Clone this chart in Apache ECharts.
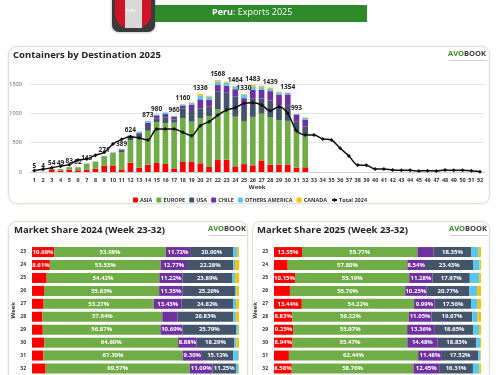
<!DOCTYPE html>
<html>
<head>
<meta charset="utf-8">
<script src="https://cdn.jsdelivr.net/npm/echarts@6/dist/echarts.min.js"></script>
<style>
  html, body { margin: 0; padding: 0; background: #fff; }
  #chart { width: 500px; height: 375px; }
</style>
</head>
<body>
<div id="chart"></div>
<script>
// Data
var weeks = [];
for (var w = 1; w <= 52; w++) weeks.push(String(w));

var asia    = [3, 2, 44, 25, 40, 30, 40, 55, 108, 112, 45, 159, 74, 125, 153, 136, 62, 170, 170, 148, 85, 204, 209, 97, 135, 114, 198, 127, 127, 121, 72, 80];
var europe  = [2, 2, 10, 24, 40, 50, 100, 115, 155, 205, 295, 386, 500, 579, 693, 693, 778, 744, 688, 766, 869, 864, 859, 846, 734, 826, 797, 809, 754, 751, 620, 546];
var usa     = [0, 0, 0, 0, 2, 1, 2, 6, 5, 8, 20, 35, 80, 80, 63, 103, 57, 171, 198, 171, 159, 301, 283, 343, 239, 308, 258, 283, 256, 255, 174, 152];
var chile   = [0, 0, 0, 0, 1, 1, 1, 0, 3, 5, 25, 40, 16, 56, 57, 56, 46, 40, 94, 153, 114, 113, 119, 125, 150, 152, 147, 159, 183, 196, 114, 116];
var others  = [0, 0, 0, 0, 0, 0, 0, 0, 0, 0, 4, 4, 20, 30, 12, 27, 14, 25, 25, 68, 55, 63, 54, 44, 60, 55, 47, 37, 37, 24, 11, 28];
var canada  = [0, 0, 0, 0, 0, 0, 0, 0, 0, 0, 0, 0, 0, 3, 2, 0, 3, 10, 10, 30, 18, 23, 16, 9, 12, 28, 23, 24, 13, 7, 2, 8];
var total2024 = [25, 45, 74, 100, 125, 205, 220, 285, 335, 477, 557, 602, 580, 545, 733, 733, 733, 676, 620, 790, 858, 971, 1056, 1096, 1170, 1182, 1142, 1045, 1113, 1000, 705, 631,
                 631, 563, 546, 404, 273, 119, 114, 51, 51, 34, 28, 28, 17, 22, 17, 34, 28, 28, 22, 6];
// weeks whose total is printed above the bar
var labelWeeks = [1, 2, 3, 4, 5, 6, 7, 9, 11, 12, 14, 15, 17, 18, 20, 22, 24, 25, 26, 28, 30, 31];

var shareWeeks = ['23', '24', '25', '26', '27', '28', '29', '30', '31', '32'];
// 2024 share: ASIA, EUROPE, CHILE, USA, OTHERS AMERICA, CANADA
var s24Asia   = [10.68, 8.61, 7.10, 5.80, 5.60, 5.00, 5.20, 6.00, 5.50, 6.60];
var s24Europe = [53.98, 53.53, 54.42, 55.63, 53.27, 57.94, 56.87, 64.60, 67.30, 69.57];
var s24Chile  = [11.72, 12.77, 11.22, 11.35, 13.43, 7.40, 10.69, 8.88, 9.30, 11.09];
var s24Usa    = [20.90, 22.28, 23.89, 25.26, 24.82, 26.83, 25.79, 18.29, 15.12, 11.25];
var s24Others = [1.90, 0.90, 1.50, 0.80, 1.50, 1.30, 0.90, 1.00, 2.50, 1.20];
var s24Canada = [0.82, 1.91, 1.87, 1.16, 1.38, 1.53, 0.55, 1.23, 0.28, 0.29];
// 2025 share
var s25Asia   = [13.55, 6.60, 10.15, 7.70, 13.44, 8.83, 9.25, 8.94, 7.20, 8.58];
var s25Europe = [55.77, 57.80, 55.19, 55.70, 54.22, 56.22, 55.07, 55.47, 62.44, 58.76];
var s25Chile  = [7.70, 8.54, 11.28, 10.25, 9.99, 11.05, 13.36, 14.48, 11.48, 12.45];
var s25Usa    = [18.35, 23.43, 17.97, 20.77, 17.56, 19.67, 18.65, 18.83, 17.52, 16.31];
var s25Others = [3.50, 3.00, 4.50, 3.70, 3.20, 2.60, 2.70, 1.80, 1.10, 3.00];
var s25Canada = [1.13, 0.63, 0.91, 1.88, 1.59, 1.63, 0.97, 0.48, 0.26, 0.90];

var totals = asia.map(function (v, i) {
    return v + europe[i] + usa[i] + chile[i] + others[i] + canada[i];
});

var C = {
    asia: '#ff0000', europe: '#70ad47', usa: '#44546a',
    chile: '#7030a0', others: '#55c8f2', canada: '#ffc000'
};
var FONT = 'Open Sans';

var chartDom = document.getElementById('chart');
var myChart = echarts.init(chartDom);

function stackBar(name, data, color) {
    return {
        name: name, type: 'bar', stack: 'dest', data: data, barWidth: '65%',
        itemStyle: {color: color}, clip: false
    };
}

function shareBar(name, data, color, idx) {
    return {
        name: name, type: 'bar', stack: 'share' + idx, data: data,
        xAxisIndex: idx, yAxisIndex: idx, barWidth: 10,
        itemStyle: {color: color},
        label: {
            show: true, position: 'inside', color: '#fff', fontSize: 6, fontWeight: 'bold', fontFamily: FONT,
            formatter: function (p) { return p.value >= 8 ? p.value.toFixed(2) + '%' : ''; }
        }
    };
}

function logo(x, y) {
    return [{
        type: 'text', left: x, top: y,
        style: {
            text: '{a|AVO}{b|BOOK}',
            rich: {
                a: {fill: '#3d8b2f', fontSize: 7.5, fontWeight: 'bold', fontFamily: FONT},
                b: {fill: '#3a3a3a', fontSize: 7.5, fontWeight: 'bold', fontFamily: FONT}
            }
        }
    }, {
        type: 'rect', shape: {x: x + 1, y: y + 10, width: 38, height: 1}, style: {fill: '#cfcfcf'}
    }];
}

function panel(x, y, w, h) {
    return {
        type: 'rect', shape: {x: x, y: y, width: w, height: h, r: 8},
        style: {fill: '#fff', stroke: '#dde3d8', lineWidth: 1, shadowBlur: 3, shadowColor: 'rgba(0,0,0,0.08)'},
        z: -10
    };
}

var graphics = [
    panel(8.5, 46.5, 481, 157),
    panel(8.5, 221.5, 239, 170),
    panel(252.5, 221.5, 237, 170),
    // header badge
    {type: 'rect', shape: {x: 112, y: -10, width: 43, height: 42, r: 7}, style: {fill: '#3b3b3b', shadowBlur: 3, shadowColor: 'rgba(0,0,0,0.4)'}},
    {type: 'rect', shape: {x: 115, y: -5, width: 36, height: 33, r: [0, 0, 14, 14]}, style: {fill: '#d2142a'}},
    {type: 'rect', shape: {x: 125, y: -5, width: 17, height: 33}, style: {fill: '#d9d9d9'}},
    {type: 'text', left: 126, top: 9, style: {text: 'PERU', fill: '#fff', fontSize: 4, fontFamily: FONT}},
    {type: 'rect', shape: {x: 155, y: 5, width: 212, height: 17}, style: {fill: '#2f8a2b'}},
    {type: 'text', left: 212, top: 7.5, style: {
        text: '{b|Peru}: Exports 2025',
        fill: '#fff', fontSize: 9, fontFamily: FONT,
        rich: {b: {fill: '#fff', fontSize: 9, fontWeight: 'bold', fontFamily: FONT}}
    }},
    {type: 'text', left: 13, top: 50, style: {text: 'Containers by Destination 2025', fill: '#222', fontSize: 9.5, fontWeight: 'bold', fontFamily: FONT}},
    {type: 'text', left: 14, top: 225, style: {text: 'Market Share 2024 (Week 23-32)', fill: '#222', fontSize: 9.5, fontWeight: 'bold', fontFamily: FONT}},
    {type: 'text', left: 257, top: 225, style: {text: 'Market Share 2025 (Week 23-32)', fill: '#222', fontSize: 9.5, fontWeight: 'bold', fontFamily: FONT}}
].concat(logo(448, 50), logo(208, 225), logo(449, 225));

var option = {
    animation: false,
    textStyle: {fontFamily: FONT},
    graphic: graphics,
    legend: {
        data: ['ASIA', 'EUROPE', 'USA', 'CHILE', 'OTHERS AMERICA', 'CANADA', 'Total 2024'],
        left: 'center', top: 192,
        itemWidth: 5, itemHeight: 5, itemGap: 4,
        textStyle: {fontSize: 5.5, fontWeight: 'bold', color: '#333', padding: [0, 0, 0, -3]}
    },
    grid: [
        {left: 29.9, right: 15.6, top: 84, bottom: 203},
        {left: 32, width: 207, top: 245.6, bottom: -5},
        {left: 274, width: 207, top: 245.6, bottom: -5}
    ],
    xAxis: [
        {
            type: 'category', data: weeks, gridIndex: 0,
            name: 'Week', nameLocation: 'middle', nameGap: 12,
            nameTextStyle: {fontSize: 6, fontWeight: 'bold', color: '#333'},
            axisLine: {lineStyle: {color: '#d0d0d0'}}, axisTick: {show: false},
            axisLabel: {interval: 0, fontSize: 5.5, fontWeight: 'bold', color: '#333', margin: 5}
        },
        {type: 'value', gridIndex: 1, min: 0, max: 100, show: false},
        {type: 'value', gridIndex: 2, min: 0, max: 100, show: false}
    ],
    yAxis: [
        {
            type: 'value', gridIndex: 0, min: 0, max: 1500, interval: 500,
            axisLine: {show: false}, axisTick: {show: false},
            axisLabel: {fontSize: 5.5, color: '#595959', margin: 8, formatter: function (v) { return String(v); }},
            splitLine: {lineStyle: {color: '#e4e4e4'}}
        },
        {
            type: 'category', gridIndex: 1, data: shareWeeks, inverse: true,
            name: 'Week', nameLocation: 'middle', nameRotate: 90, nameGap: 14,
            nameTextStyle: {fontSize: 6, fontWeight: 'bold', color: '#333'},
            axisLine: {show: false}, axisTick: {show: false},
            axisLabel: {fontSize: 5, fontWeight: 'bold', color: '#333', margin: 6}
        },
        {
            type: 'category', gridIndex: 2, data: shareWeeks, inverse: true,
            name: 'Week', nameLocation: 'middle', nameRotate: 90, nameGap: 14,
            nameTextStyle: {fontSize: 6, fontWeight: 'bold', color: '#333'},
            axisLine: {show: false}, axisTick: {show: false},
            axisLabel: {fontSize: 5, fontWeight: 'bold', color: '#333', margin: 6}
        }
    ],
    series: [
        stackBar('ASIA', asia, C.asia),
        stackBar('EUROPE', europe, C.europe),
        stackBar('USA', usa, C.usa),
        stackBar('CHILE', chile, C.chile),
        stackBar('OTHERS AMERICA', others, C.others),
        Object.assign(stackBar('CANADA', canada, C.canada), {
            label: {
                show: true, position: 'top', distance: 2, color: '#222', fontSize: 6.5, fontWeight: 'bold',
                formatter: function (p) {
                    return labelWeeks.indexOf(p.dataIndex + 1) >= 0 ? totals[p.dataIndex] : '';
                }
            }
        }),
        {
            name: 'Total 2024', type: 'line', data: total2024, smooth: 0.3,
            symbol: 'diamond', symbolSize: 4, clip: false, z: 5,
            itemStyle: {color: '#111'}, lineStyle: {color: '#111', width: 1.5}
        },
        shareBar('ASIA', s24Asia, C.asia, 1),
        shareBar('EUROPE', s24Europe, C.europe, 1),
        shareBar('CHILE', s24Chile, C.chile, 1),
        shareBar('USA', s24Usa, C.usa, 1),
        shareBar('OTHERS AMERICA', s24Others, C.others, 1),
        shareBar('CANADA', s24Canada, C.canada, 1),
        shareBar('ASIA', s25Asia, C.asia, 2),
        shareBar('EUROPE', s25Europe, C.europe, 2),
        shareBar('CHILE', s25Chile, C.chile, 2),
        shareBar('USA', s25Usa, C.usa, 2),
        shareBar('OTHERS AMERICA', s25Others, C.others, 2),
        shareBar('CANADA', s25Canada, C.canada, 2)
    ]
};

option && myChart.setOption(option);
</script>
</body>
</html>
